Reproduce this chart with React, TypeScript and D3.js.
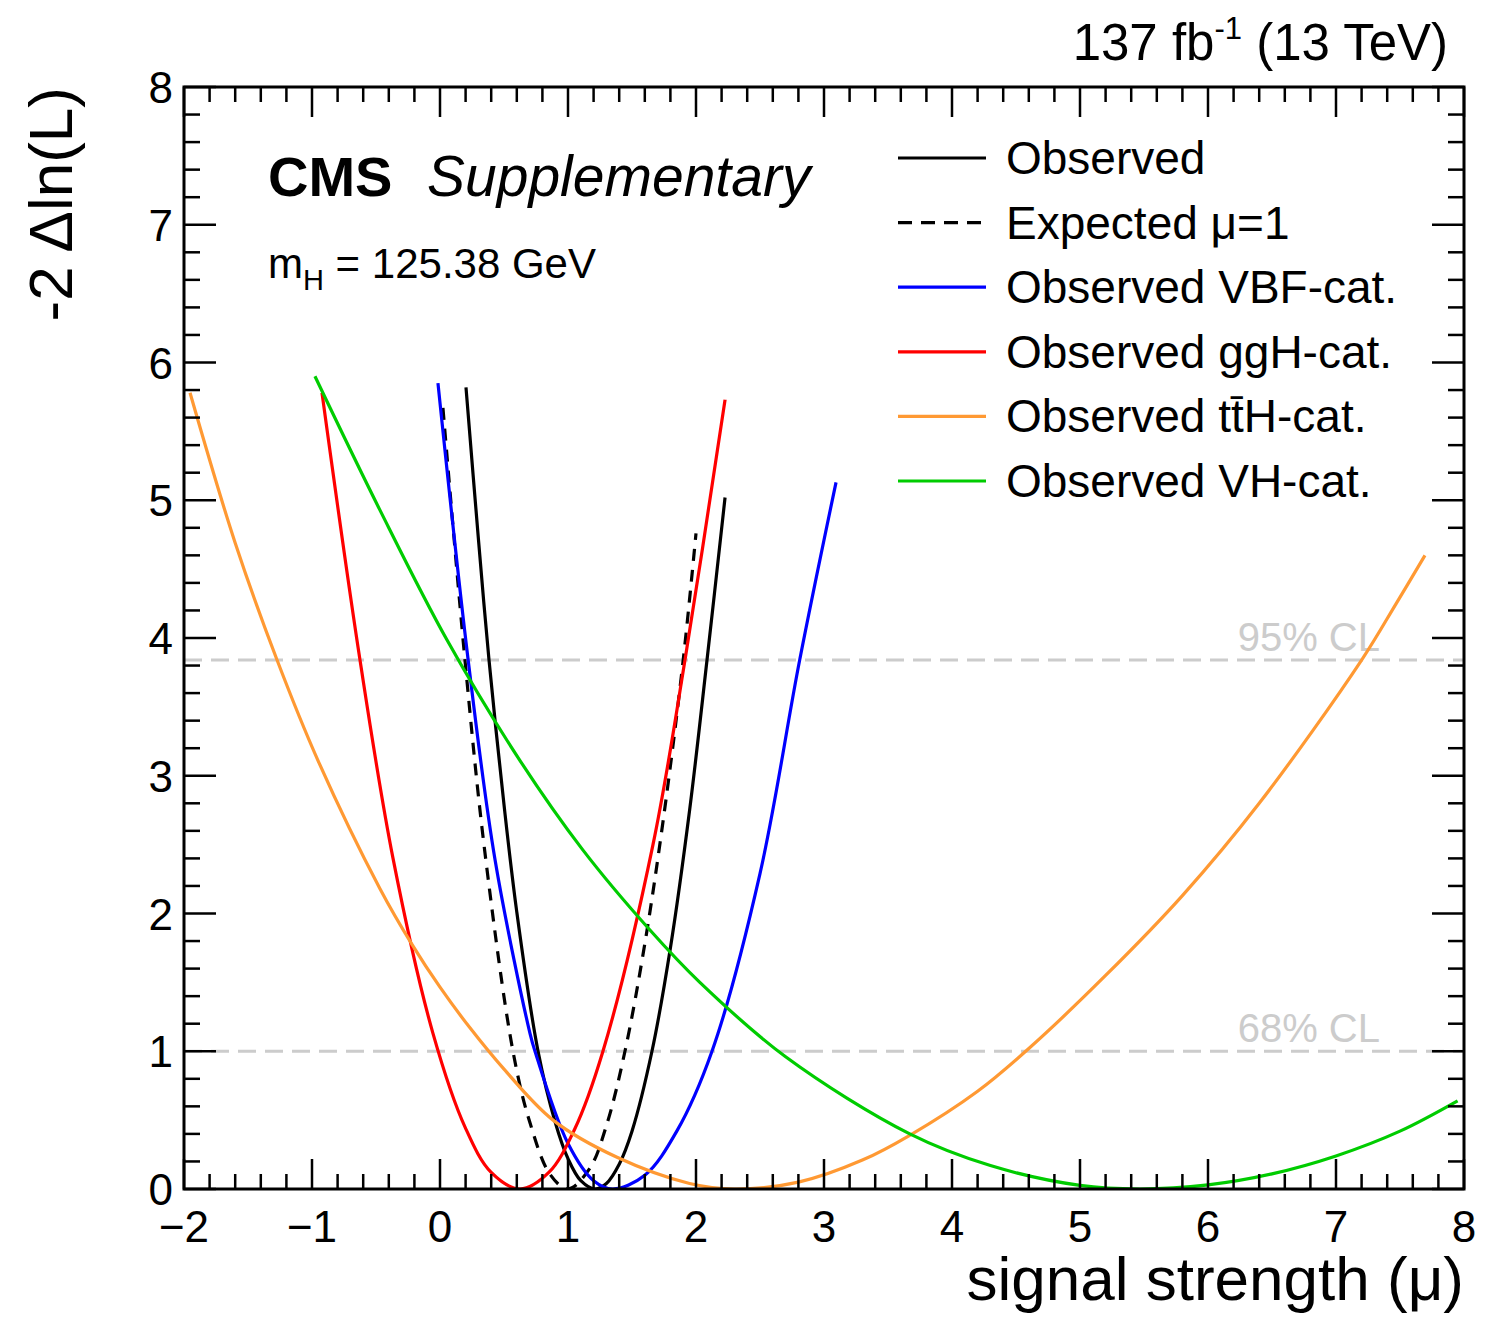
import React from "react";
import * as d3 from "d3";

const observed: [number, number][] = [
  [0.203, 5.82], [0.3, 4.72], [0.383, 3.84], [0.5, 2.79], [0.6, 2.01], [0.766, 1.0],
  [0.9, 0.485], [1.0, 0.22], [1.1, 0.06], [1.21, 0.0], [1.3, 0.04], [1.4, 0.18],
  [1.5, 0.42], [1.656, 1.0], [1.8, 1.75], [1.95, 2.75], [2.086, 3.84], [2.227, 5.02],
];
const expected: [number, number][] = [
  [0.023, 5.67], [0.195, 3.84], [0.35, 2.45], [0.57, 1.0], [0.7, 0.49], [0.86, 0.106],
  [1.0, 0.0], [1.17, 0.15], [1.3, 0.46], [1.445, 1.0], [1.6, 1.78], [1.75, 2.72],
  [1.9, 3.84], [2.0, 4.76],
];
const vbf: [number, number][] = [
  [-0.016, 5.85], [0.22, 3.84], [0.43, 2.39], [0.703, 1.13], [0.742, 1.0], [1.0, 0.33],
  [1.2, 0.06], [1.35, 0.0], [1.6, 0.1], [1.85, 0.42], [2.125, 1.0], [2.5, 2.29],
  [2.81, 3.84], [3.094, 5.13],
];
const ggh: [number, number][] = [
  [-0.922, 5.78], [-0.625, 3.84], [-0.367, 2.4], [-0.055, 1.13], [0.2, 0.44],
  [0.4, 0.12], [0.625, 0.0], [0.85, 0.12], [1.05, 0.43], [1.273, 1.0], [1.664, 2.5],
  [1.914, 3.84], [2.227, 5.73],
];
const tth: [number, number][] = [
  [-1.953, 5.78], [-1.6, 4.69], [-1.273, 3.84], [-0.953, 3.11], [-0.469, 2.18],
  [-0.219, 1.776], [0.0, 1.465], [0.234, 1.17], [0.5, 0.87], [0.883, 0.5], [1.383, 0.23],
  [1.95, 0.04], [2.3, 0.0], [2.8, 0.05], [3.3, 0.21], [3.67, 0.39], [4.2, 0.71],
  [4.6, 1.02], [5.2, 1.55], [5.8, 2.13], [6.4, 2.8], [7.2, 3.84], [7.47, 4.25], [7.695, 4.6],
];
const vh: [number, number][] = [
  [-0.977, 5.9], [-0.47, 4.93], [0.055, 3.985], [0.625, 3.11], [1.117, 2.46],
  [1.64, 1.88], [2.03, 1.5], [2.7, 0.96], [3.67, 0.4], [4.3, 0.17], [5.0, 0.026],
  [5.47, 0.0], [6.0, 0.03], [6.5, 0.11], [7.0, 0.24], [7.5, 0.42], [7.95, 0.64],
];

const seriesNames = [
  "Observed", "Expected \u03bc=1", "Observed VBF-cat.", "Observed ggH-cat.",
  "Observed tt\u0304H-cat.", "Observed VH-cat.",
];
const seriesColors = ["#000000", "#000000", "#0000ff", "#ff0000", "#ff9933", "#00cc00"];
const seriesDash = [null, "12,9", null, null, null, null];
const seriesData = [observed, expected, vbf, ggh, tth, vh];

const xTicks = [-2, -1, 0, 1, 2, 3, 4, 5, 6, 7, 8];
const yTicks = [0, 1, 2, 3, 4, 5, 6, 7, 8];
const clLevels = [1, 3.84];
const clLabels = ["68% CL", "95% CL"];

const W = 1505, H = 1318;
const L = 184, R = 1464, T = 87, B = 1189;
const FONT = "'Liberation Sans', Arial, Helvetica, sans-serif";
const MU = "\u03bc";

export default function App() {
  const x = d3.scaleLinear().domain([-2, 8]).range([L, R]);
  const y = d3.scaleLinear().domain([0, 8]).range([B, T]);
  const line = d3.line<[number, number]>().x(d => x(d[0])).y(d => y(d[1])).curve(d3.curveCatmullRom.alpha(0.5));

  const xMinor = d3.range(-2, 8.0001, 0.2);
  const yMinor = d3.range(0, 8.0001, 0.2);
  const isMajor = (v: number) => Math.abs(v - Math.round(v)) < 1e-6;

  const legX1 = 898, legX2 = 986, legY0 = 158, legDy = 64.6;

  return (
    <svg width={W} height={H} style={{ position: "absolute", left: 0, top: 0, background: "#fff" }} fontFamily={FONT}>
      <defs>
        <clipPath id="plotclip">
          <rect x={L} y={T} width={R - L} height={B - T} />
        </clipPath>
      </defs>
      <rect x={0} y={0} width={W} height={H} fill="#fff" />

      {/* CL lines */}
      {clLevels.map((c, i) => (
        <g key={"cl" + i}>
          <line x1={L} x2={R} y1={y(c)} y2={y(c)} stroke="#cccccc" strokeWidth={3} strokeDasharray="18,9" />
          <text x={1380} y={y(c) - 9} textAnchor="end" fontSize={40} fill="#cccccc">{clLabels[i]}</text>
        </g>
      ))}

      {/* curves */}
      <g clipPath="url(#plotclip)">
        {seriesData.map((d, i) => (
          <path key={"s" + i} d={line(d) || ""} fill="none" stroke={seriesColors[i]} strokeWidth={3.2}
            strokeDasharray={seriesDash[i] || undefined} />
        ))}
      </g>

      {/* ticks */}
      <g stroke="#000" strokeWidth={2.5}>
        {xMinor.map((v, i) => {
          const len = isMajor(v) ? 30 : 15;
          return (
            <g key={"xt" + i}>
              <line x1={x(v)} x2={x(v)} y1={B} y2={B - len} />
              <line x1={x(v)} x2={x(v)} y1={T} y2={T + len} />
            </g>
          );
        })}
        {yMinor.map((v, i) => {
          const len = isMajor(v) ? 32 : 16;
          return (
            <g key={"yt" + i}>
              <line x1={L} x2={L + len} y1={y(v)} y2={y(v)} />
              <line x1={R} x2={R - len} y1={y(v)} y2={y(v)} />
            </g>
          );
        })}
      </g>

      {/* frame */}
      <rect x={L} y={T} width={R - L} height={B - T} fill="none" stroke="#000" strokeWidth={3} />

      {/* tick labels */}
      {xTicks.map(v => (
        <text key={"xl" + v} x={x(v)} y={1242} textAnchor="middle" fontSize={44}>
          {v < 0 ? "\u2212" + Math.abs(v) : String(v)}
        </text>
      ))}
      {yTicks.map(v => (
        <text key={"yl" + v} x={173} y={y(v) + 16} textAnchor="end" fontSize={44}>{v}</text>
      ))}

      {/* axis titles */}
      <text x={R} y={1300} textAnchor="end" fontSize={62}>{"signal strength (" + MU + ")"}</text>
      <text transform={`translate(72, ${T}) rotate(-90)`} textAnchor="end" fontSize={62}>{"-2 \u0394ln(L)"}</text>

      {/* top-right lumi */}
      <text x={1448} y={60} textAnchor="end" fontSize={51}>
        137 fb<tspan dy={-21} fontSize={31}>-1</tspan><tspan dy={21}> (13 TeV)</tspan>
      </text>

      {/* CMS label */}
      <text x={268} y={196} fontSize={56} fontWeight="bold">CMS</text>
      <text x={427} y={196} fontSize={57} fontStyle="italic">Supplementary</text>
      <text x={268} y={278} fontSize={42}>
        m<tspan dy={12} fontSize={29}>H</tspan><tspan dy={-12}> = 125.38 GeV</tspan>
      </text>

      {/* legend */}
      {seriesNames.map((n, i) => {
        const yy = legY0 + i * legDy;
        return (
          <g key={"lg" + i}>
            <line x1={legX1} x2={legX2} y1={yy} y2={yy} stroke={seriesColors[i]} strokeWidth={3.2}
              strokeDasharray={seriesDash[i] ? "14,9" : undefined} />
            <text x={1006} y={yy + 16} fontSize={46}>{n}</text>
          </g>
        );
      })}
    </svg>
  );
}
